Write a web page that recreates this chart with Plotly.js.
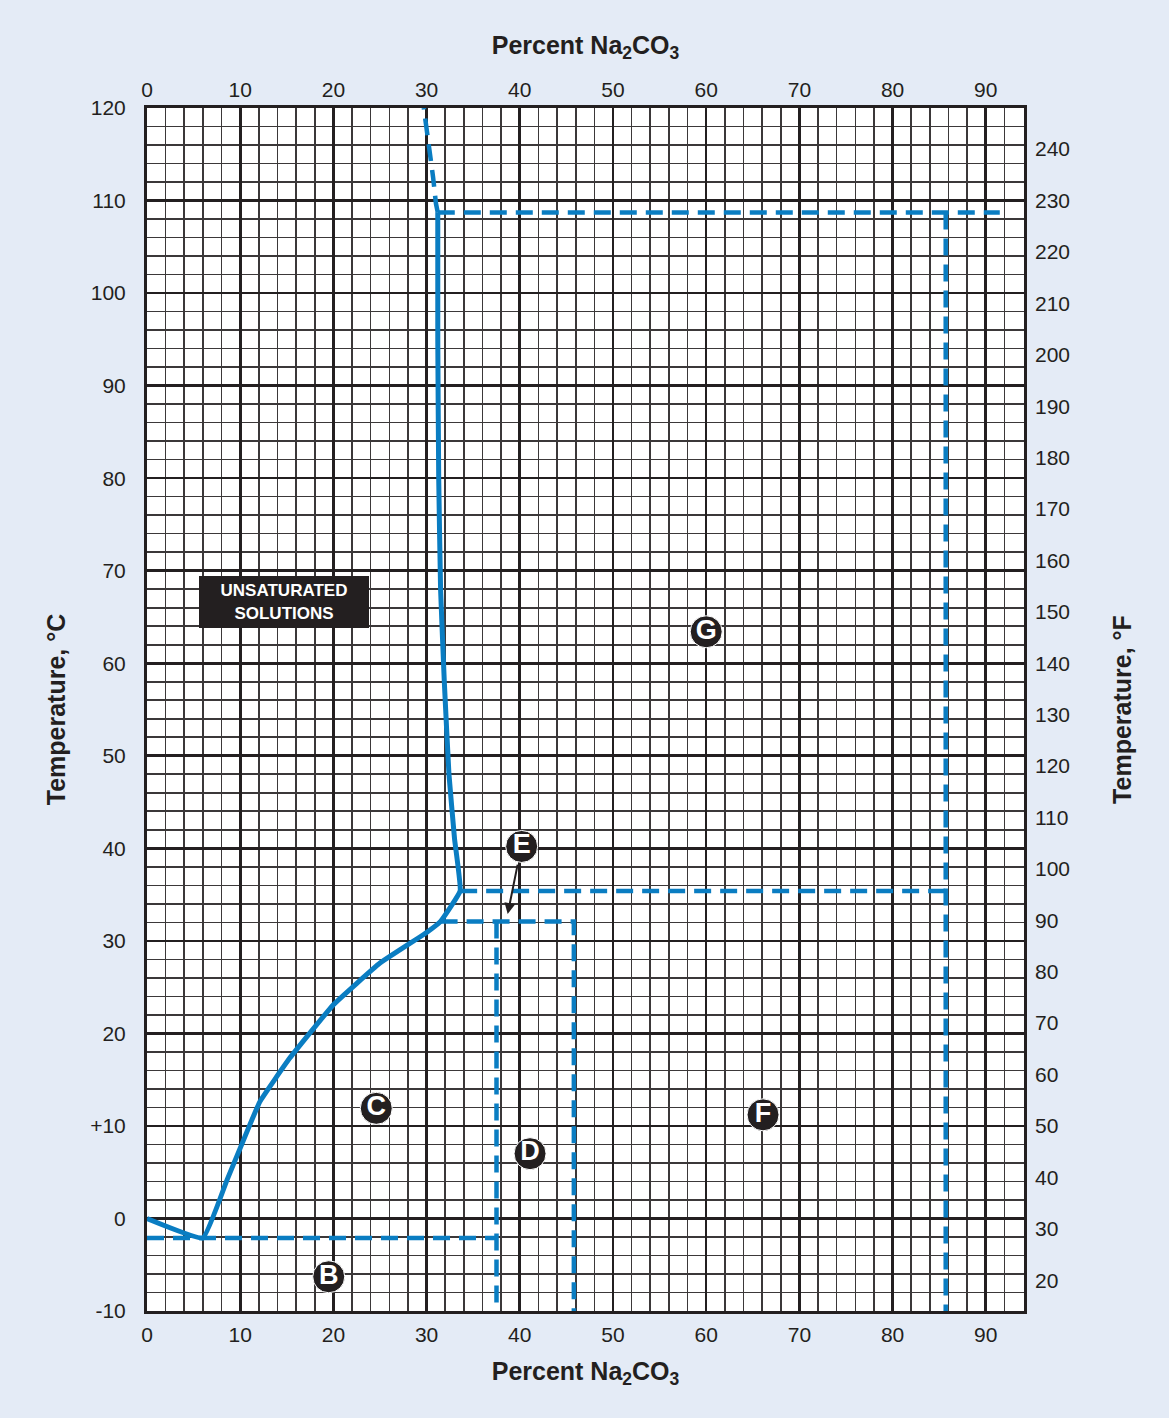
<!DOCTYPE html>
<html>
<head>
<meta charset="utf-8">
<script src="https://cdn.plot.ly/plotly-3.0.1.min.js"></script>
<style>html,body{margin:0;padding:0;background:#ffffff;}#chart{width:1169px;height:1418px;}</style>
</head>
<body>
<div id="chart"></div>
<script>
// ---- data (percent Na2CO3, temperature °C) ----
const solidX = [0, 6.0, 8.6, 10, 12.1, 15.3, 20, 25, 30, 31.5, 33.6, 33.0, 32.4, 31.9, 31.5, 31.3, 31.2, 31.2];
const solidY = [0, -2.1, 4.2, 7.6, 12.6, 17.3, 23.1, 27.6, 30.9, 32.1, 35.4, 41, 48, 58, 68, 80, 95, 108.7];
const dashCurveX = [31.2, 31.0, 30.7, 30.2, 29.7];
const dashCurveY = [108.7, 109.7, 112.5, 116, 120];
const lineBX = [0, 37.5];       const lineBY = [-2.1, -2.1];
const lineDX = [37.5, 37.5];    const lineDY = [32.1, -10];
const lineEX = [31.5, 45.8, 45.8]; const lineEY = [32.1, 32.1, -10];
const lineFX = [33.6, 85.7];    const lineFY = [35.4, 35.4];
const lineGX = [31.2, 91.5];    const lineGY = [108.7, 108.7];
const lineGVX = [85.7, 85.7];   const lineGVY = [108.7, -10];
const regionLabels = ['B', 'C', 'D', 'E', 'F', 'G'];
const regionX = [19.5, 24.6, 41.1, 40.2, 66.1, 60.0];
const regionY = [-6.3, 11.9, 7.0, 40.2, 11.2, 63.4];
const arrowFrom = [39.8, 38.4];
const arrowTo = [38.7, 32.9];
const unsatLabel = 'UNSATURATED<br>SOLUTIONS';
const unsatPos = [14.7, 66.6];
const xTicks = [0, 10, 20, 30, 40, 50, 60, 70, 80, 90];
const cTicks = [-10, 0, 10, 20, 30, 40, 50, 60, 70, 80, 90, 100, 110, 120];
const cTickText = ['-10', '0', '+10', '20', '30', '40', '50', '60', '70', '80', '90', '100', '110', '120'];
const fTicks = [20, 30, 40, 50, 60, 70, 80, 90, 100, 110, 120, 130, 140, 150, 160, 170, 180, 190, 200, 210, 220, 230, 240];
const xRange = [0, 94.1];
const cRange = [-10, 120];
const fRange = cRange.map(c => c * 9 / 5 + 32);

const blue = '#0a7dc2';
const ink = '#231f20';
const dashStyle = {color: blue, width: 4.5, dash: '17px,9px'};

const traces = [];
function dashed(x, y) {
  traces.push({x: x, y: y, type: 'scatter', mode: 'lines', line: dashStyle, hoverinfo: 'skip', showlegend: false});
}
dashed(lineBX, lineBY);
dashed(lineDX, lineDY);
dashed(lineEX, lineEY);
dashed(lineFX, lineFY);
dashed(lineGX, lineGY);
dashed(lineGVX, lineGVY);
dashed(dashCurveX, dashCurveY);
traces.push({x: solidX, y: solidY, type: 'scatter', mode: 'lines', line: {color: blue, width: 5, shape: 'spline', smoothing: 0.3}, hoverinfo: 'skip', showlegend: false});
traces.push({x: regionX, y: regionY, type: 'scatter', mode: 'markers+text', text: regionLabels,
  textposition: 'middle center', textfont: {family: 'Liberation Sans, Arial, sans-serif', size: 27, color: '#ffffff', weight: 'bold'},
  marker: {size: 32, color: ink, line: {color: '#ffffff', width: 1}}, hoverinfo: 'skip', showlegend: false});
// secondary axes (top percent, right °F)
traces.push({x: [], y: [], xaxis: 'x2', yaxis: 'y2', type: 'scatter', mode: 'lines', hoverinfo: 'skip', showlegend: false});

const font = {family: 'Liberation Sans, Arial, Helvetica, sans-serif', color: ink};
const tickFont = {family: font.family, size: 21, color: ink};
const titleFont = {family: font.family, size: 25, color: ink, weight: 'bold'};
const minorGrid = {dtick: 2, showgrid: true, gridcolor: '#3b3839', gridwidth: 1.6, ticks: ''};

const layout = {
  width: 1169, height: 1418,
  paper_bgcolor: '#e4ebf6', plot_bgcolor: '#ffffff',
  margin: {l: 147, r: 145, t: 108, b: 107},
  font: font,
  xaxis: {range: xRange, tickvals: xTicks, ticks: '', showgrid: true, gridcolor: ink, gridwidth: 2.6,
    minor: minorGrid, zeroline: false, showline: true, mirror: true, linecolor: ink, linewidth: 3,
    tickfont: tickFont, ticklabelstandoff: 3,
    title: {text: 'Percent Na<sub>2</sub>CO<sub>3</sub>', font: titleFont, standoff: 18}},
  xaxis2: {range: xRange, overlaying: 'x', side: 'top', anchor: 'y', tickvals: xTicks, ticks: '', showgrid: false,
    zeroline: false, tickfont: tickFont, ticklabelstandoff: 6,
    title: {text: 'Percent Na<sub>2</sub>CO<sub>3</sub>', font: titleFont, standoff: 16}},
  yaxis: {range: cRange, tickvals: cTicks, ticktext: cTickText, ticks: '', showgrid: true, gridcolor: ink, gridwidth: 2.6,
    minor: minorGrid, zeroline: false, showline: true, mirror: true, linecolor: ink, linewidth: 3,
    tickfont: tickFont, ticklabelstandoff: 14,
    title: {text: 'Temperature, °C', font: titleFont, standoff: 18}},
  yaxis2: {range: fRange, overlaying: 'y', side: 'right', anchor: 'x', tickvals: fTicks, ticks: '', showgrid: false,
    zeroline: false, tickfont: tickFont, ticklabelstandoff: 10,
    title: {text: 'Temperature, °F', font: titleFont, standoff: 44}},
  annotations: [
    {x: unsatPos[0], y: unsatPos[1], xref: 'x', yref: 'y', text: unsatLabel, showarrow: false,
      font: {family: font.family, size: 17, color: '#ffffff', weight: 'bold'}, bgcolor: ink, bordercolor: ink,
      borderwidth: 1, borderpad: 4, width: 160, height: 42, align: 'center'},
    {x: arrowTo[0], y: arrowTo[1], ax: arrowFrom[0], ay: arrowFrom[1], xref: 'x', yref: 'y', axref: 'x', ayref: 'y',
      text: '', showarrow: true, arrowhead: 2, arrowsize: 1.1, arrowwidth: 2, arrowcolor: ink}
  ]
};

Plotly.newPlot('chart', traces, layout, {displayModeBar: false, staticPlot: true});
</script>
</body>
</html>
